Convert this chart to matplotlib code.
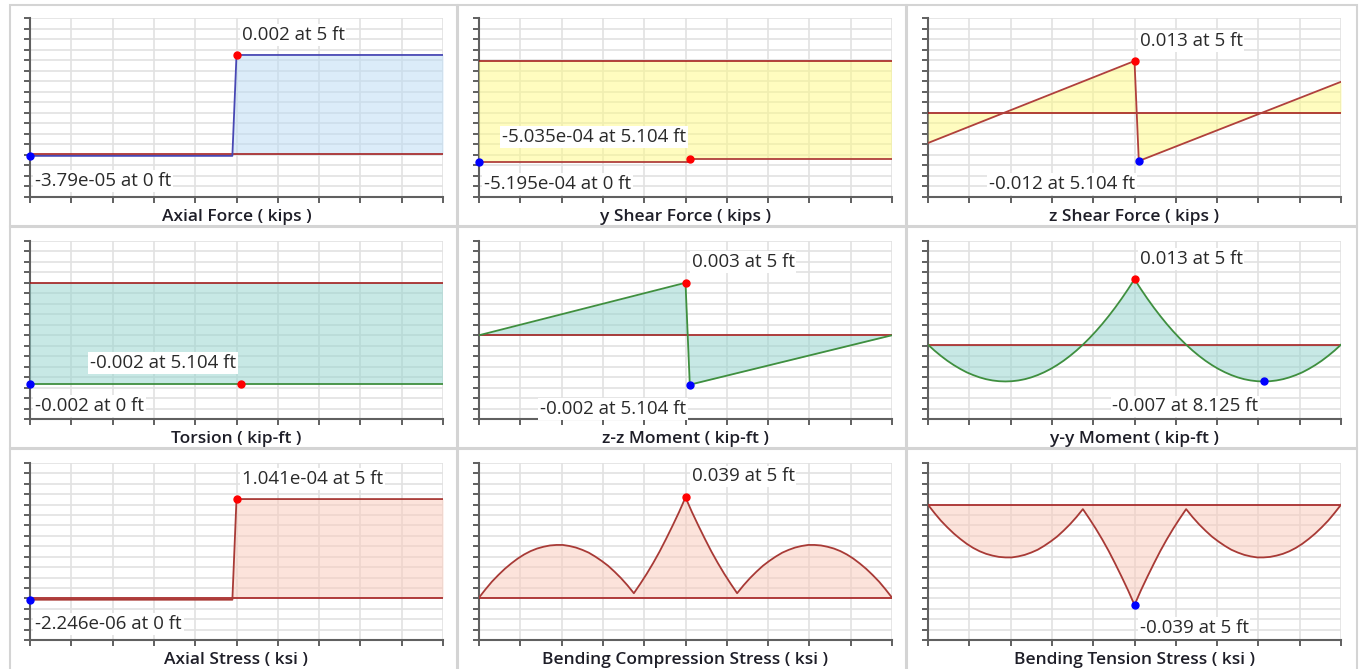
import numpy as np
import matplotlib.pyplot as plt
from matplotlib.patches import Rectangle

plt.rcParams['font.family'] = ['Open Sans', 'DejaVu Sans']

# Stationen entlang des Trägers (ft)
STEP_X = [0, 4.9, 5, 10]
JUMP_X = [0, 5.104, 5.104, 10]
SAW_X = [0, 5, 5.104, 10]
FLAT_X = [0, 10]
STATIONS = [0, 0.15625, 0.3125, 0.46875, 0.625, 0.78125, 0.9375, 1.09375, 1.25, 1.40625, 1.5625,
            1.71875, 1.875, 2.03125, 2.1875, 2.34375, 2.5, 2.65625, 2.8125, 2.96875, 3.125,
            3.28125, 3.4375, 3.59375, 3.75, 3.90625, 4.0625, 4.21875, 4.375, 4.53125, 4.6875,
            4.84375, 5,
            5.15625, 5.3125, 5.46875, 5.625, 5.78125, 5.9375, 6.09375, 6.25, 6.40625, 6.5625,
            6.71875, 6.875, 7.03125, 7.1875, 7.34375, 7.5, 7.65625, 7.8125, 7.96875, 8.125,
            8.28125, 8.4375, 8.59375, 8.75, 8.90625, 9.0625, 9.21875, 9.375, 9.53125, 9.6875,
            9.84375, 10]

# Werte
axial_force = [-3.79e-05, -3.79e-05, 0.002, 0.002]
y_shear = [-5.195e-04, -5.195e-04, -5.035e-04, -5.035e-04]
z_shear = [-0.0075, 0.013, -0.012, 0.0078]
torsion = [-0.002, -0.002]
zz_moment = [0, 0.0026, -0.00245, 0]
yy_moment = [0, -0.00117, -0.00223, -0.0032, -0.00406, -0.00482, -0.0055, -0.00604, -0.0065,
             -0.00686, -0.00711, -0.00726, -0.00731, -0.00726, -0.00711, -0.00686, -0.0065,
             -0.00604, -0.00548, -0.00482, -0.00406, -0.0032, -0.00223, -0.00117, 0, 0.00127,
             0.00264, 0.00411, 0.00569, 0.00736, 0.00914, 0.01102, 0.013,
             0.01102, 0.00914, 0.00736, 0.00569, 0.00411, 0.00264, 0.00127, 0, -0.00117,
             -0.00223, -0.0032, -0.00406, -0.00482, -0.00548, -0.00604, -0.0065, -0.00686,
             -0.00711, -0.00726, -0.00731, -0.00726, -0.00711, -0.00686, -0.0065, -0.00604,
             -0.0055, -0.00482, -0.00406, -0.0032, -0.00223, -0.00117, 0]
axial_stress = [-2.246e-06, -2.246e-06, 1.041e-04, 1.041e-04]
bend_comp = [0, 0.0032, 0.0062, 0.0088, 0.0112, 0.0133, 0.0152, 0.0168, 0.0181, 0.0191, 0.0198,
             0.0203, 0.0205, 0.0205, 0.0201, 0.0195, 0.0186, 0.0175, 0.0160, 0.0143, 0.0124,
             0.0101, 0.0076, 0.0048, 0.0017, 0.0054, 0.0093, 0.0135, 0.0180, 0.0229, 0.0280,
             0.0333, 0.039,
             0.0333, 0.0280, 0.0229, 0.0180, 0.0135, 0.0093, 0.0054, 0.0017, 0.0048, 0.0076,
             0.0101, 0.0124, 0.0143, 0.0160, 0.0175, 0.0186, 0.0195, 0.0201, 0.0205, 0.0205,
             0.0203, 0.0198, 0.0191, 0.0181, 0.0168, 0.0152, 0.0133, 0.0112, 0.0088, 0.0062,
             0.0032, 0]
bend_tens = [0, -0.0032, -0.0062, -0.0088, -0.0112, -0.0133, -0.0152, -0.0168, -0.0181, -0.0191,
             -0.0198, -0.0203, -0.0205, -0.0205, -0.0201, -0.0195, -0.0186, -0.0175, -0.0160,
             -0.0143, -0.0124, -0.0101, -0.0076, -0.0048, -0.0017, -0.0054, -0.0093, -0.0135,
             -0.0180, -0.0229, -0.0280, -0.0333, -0.039,
             -0.0333, -0.0280, -0.0229, -0.0180, -0.0135, -0.0093, -0.0054, -0.0017, -0.0048,
             -0.0076, -0.0101, -0.0124, -0.0143, -0.0160, -0.0175, -0.0186, -0.0195, -0.0201,
             -0.0205, -0.0205, -0.0203, -0.0198, -0.0191, -0.0181, -0.0168, -0.0152, -0.0133,
             -0.0112, -0.0088, -0.0062, -0.0032, 0]

titles = ["Axial Force ( kips )", "y Shear Force ( kips )", "z Shear Force ( kips )",
          "Torsion ( kip-ft )", "z-z Moment ( kip-ft )", "y-y Moment ( kip-ft )",
          "Axial Stress ( ksi )", "Bending Compression Stress ( ksi )", "Bending Tension Stress ( ksi )"]

# max / min Punkte: (x, y, text)
max_pts = [(5, 0.002, "0.002 at 5 ft"), (5.104, -5.035e-04, "-5.035e-04 at 5.104 ft"),
           (5, 0.013, "0.013 at 5 ft"), (5.104, -0.002, "-0.002 at 5.104 ft"),
           (5, 0.0026, "0.003 at 5 ft"), (5, 0.013, "0.013 at 5 ft"),
           (5, 1.041e-04, "1.041e-04 at 5 ft"), (5, 0.039, "0.039 at 5 ft"), None]
min_pts = [(0, -3.79e-05, "-3.79e-05 at 0 ft"), (0, -5.195e-04, "-5.195e-04 at 0 ft"),
           (5.104, -0.012, "-0.012 at 5.104 ft"), (0, -0.002, "-0.002 at 0 ft"),
           (5.104, -0.00245, "-0.002 at 5.104 ft"), (8.125, -0.00731, "-0.007 at 8.125 ft"),
           (0, -2.246e-06, "-2.246e-06 at 0 ft"), None, (5, -0.039, "-0.039 at 5 ft")]

xs = [STEP_X, JUMP_X, SAW_X, FLAT_X, SAW_X, STATIONS, STEP_X, STATIONS, STATIONS]
ys = [axial_force, y_shear, z_shear, torsion, zz_moment, yy_moment, axial_stress, bend_comp, bend_tens]

# Layout / Stil
ylims = [(-8.69e-4, 2.747e-3), (-6.996e-4, 2.21e-4), (-0.021, 0.02375),
         (-2.7e-3, 8.26e-4), (-0.00415, 0.00467), (-0.01477, 0.0206),
         (-4.48e-5, 1.422e-4), (-0.0165, 0.0524), (-0.05265, 0.01626)]
line_col = ['#4848b4', '#b0403c', '#b0403c', '#3f8f3f', '#3f8f3f', '#3f8f3f', '#a83a36', '#a83a36', '#a83a36']
fill_col = ['#b9dbf5', '#fffb81', '#fffb81', '#91d3cd', '#91d3cd', '#91d3cd', '#fbc9b9', '#fbc9b9', '#fbc9b9']
# Textversatz in Pixel (dx, dy nach unten, ha)
max_off = [(5, -20, 'left'), (-4, -22, 'right'), (5, -20, 'left'), (-5, -21, 'right'), (6, -21, 'left'),
           (5, -20, 'left'), (5, -20, 'left'), (6, -21, 'left'), None]
min_off = [(5, 25, 'left'), (5, 22, 'left'), (-4, 23, 'right'), (5, 22, 'left'), (-4, 24, 'right'),
           (-5, 25, 'right'), (5, 24, 'left'), None, (5, 23, 'left')]

W, H = 1364, 669
fig = plt.figure(figsize=(W / 100, H / 100), dpi=100)
col_left = [30, 479, 928]
row_top = [18, 241, 463]
row_bot = [197, 419, 640]
pan_x = [(10, 457), (458, 906), (907, 1357)]
pan_y = [(5, 226), (227, 448), (449, 672)]

for r in range(3):
    for c in range(3):
        x0, x1 = pan_x[c]
        y0, y1 = pan_y[r]
        fig.patches.append(Rectangle((x0 / W, 1 - y1 / H), (x1 - x0) / W, (y1 - y0) / H,
                                     transform=fig.transFigure, fill=False, ec='#d4d4d4', lw=1.5))

for i in range(9):
    r, c = divmod(i, 3)
    ax = fig.add_axes([col_left[c] / W, 1 - row_bot[r] / H, 413 / W, (row_bot[r] - row_top[r]) / H])
    x = np.array(xs[i])
    y = np.array(ys[i])
    ax.fill_between(x, y, 0, color=fill_col[i], alpha=0.5, lw=0, zorder=3)
    ax.axhline(0, color='#a01010', lw=1.1, zorder=4)
    ax.plot(x, y, color=line_col[i], lw=1.3, zorder=5)
    ax.set_xlim(0, 10)
    ax.set_ylim(*ylims[i])
    ax.set_xticks(range(11))
    ax.set_yticks(np.linspace(ylims[i][0], ylims[i][1], 18))
    ax.grid(True, color='#e2e2e2', lw=1.2, zorder=0)
    ax.set_axisbelow(True)
    ax.tick_params(length=4, width=1.4, color='#606060', labelleft=False, labelbottom=False)
    for s in ['top', 'right']:
        ax.spines[s].set_visible(False)
    for s in ['left', 'bottom']:
        ax.spines[s].set_color('#606060')
        ax.spines[s].set_linewidth(1.5)
    ax.set_xlabel(titles[i], fontsize=12.5, fontweight='semibold', color='#1e1e28')
    ax.xaxis.label.set_va('center')
    ax.xaxis.set_label_coords(0.5, -20 / (row_bot[r] - row_top[r]))

    for pt, off, col in [(max_pts[i], max_off[i], 'red'), (min_pts[i], min_off[i], 'blue')]:
        if pt is None:
            continue
        px, py, txt = pt
        ax.plot(px, py, 'o', color=col, ms=5, zorder=7, clip_on=False)
        dx, dy, ha = off
        ax.annotate(txt, (px, py), xytext=(dx * 0.72, -dy * 0.72), textcoords='offset points',
                    ha=ha, va='center', fontsize=13.5, color='#2a2a2a', zorder=8,
                    bbox=dict(boxstyle='square,pad=0.1', fc='white', ec='none'))

plt.savefig("out.png", dpi=100)
